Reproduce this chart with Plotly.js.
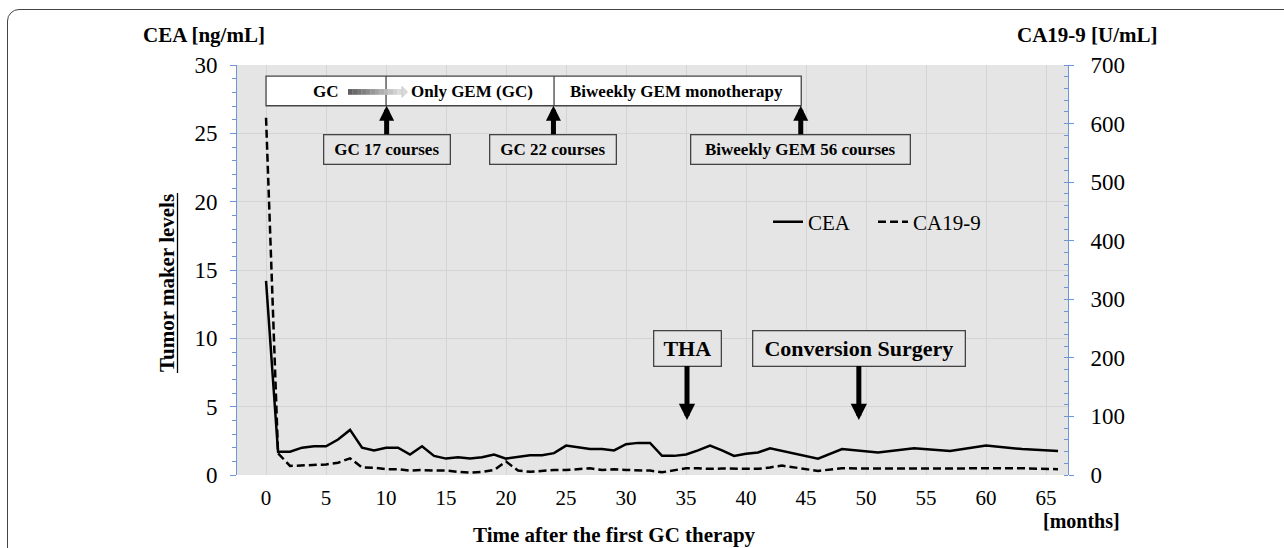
<!DOCTYPE html>
<html><head><meta charset="utf-8">
<script src="https://cdn.plot.ly/plotly-3.0.1.min.js"></script>
<style>
html,body{margin:0;padding:0;background:#fff;}
#wrap{position:relative;width:1284px;height:548px;overflow:hidden;}
#chart{width:1284px;height:548px;}
#frame{position:absolute;left:7px;top:9px;width:1300px;height:620px;border:1px solid #444;border-radius:12px;pointer-events:none;}
</style></head>
<body><div id="wrap"><div id="chart"></div><div id="frame"></div></div>
<script>
// ---- data ----
const ceaMonths = [0,1,2,3,4,5,6,7,8,9,10,11,12,13,14,15,16,17,18,19,20,21,22,23,24,25,26,27,28,29,30,31,32,33,34,35,36,37,38,39,40,41,42,46,48,51,54,57,60,63,66];
const ceaValues = [14.2,1.7,1.7,2.0,2.1,2.1,2.6,3.3,2.0,1.8,2.0,2.0,1.5,2.1,1.4,1.2,1.3,1.2,1.3,1.5,1.2,1.35,1.45,1.45,1.6,2.15,2.0,1.9,1.9,1.8,2.25,2.35,2.35,1.4,1.4,1.5,1.8,2.15,1.8,1.4,1.55,1.65,1.95,1.2,1.9,1.65,1.95,1.75,2.15,1.9,1.75];
const caMonths = [0,1,2,3,4,5,6,7,8,9,10,11,12,13,14,15,16,17,18,19,20,21,22,23,24,25,26,27,28,29,30,31,32,33,34,35,36,37,38,39,40,41,42,43,46,48,51,54,57,60,63,66];
const caValues = [610,37,15.5,16.5,17,18,21,28.5,13,12.5,10,10,7.5,8.5,7.5,7.5,5.5,4,5.5,8.5,23,7.5,5.5,7,8.5,8.5,9.7,11.5,8.5,9.7,8.5,8.5,7.5,4.6,7.5,11.5,11.5,10.5,11,11,11.5,10.5,13,16,7,11.5,11,11,11,11,11.5,10];
const xTickVals = [0,5,10,15,20,25,30,35,40,45,50,55,60,65];
const ceaTicks = [0,5,10,15,20,25,30];
const caTicks = [0,100,200,300,400,500,600,700];
const seriesNames = ['CEA','CA19-9'];

const FONT = 'Liberation Serif, Times New Roman, serif';
const BG = '#e5e5e5';
const AXC = 'rgb(110,150,215)';
const BOX = '#444';

const traces = [
  {x: ceaMonths, y: ceaValues, name: seriesNames[0], type:'scatter', mode:'lines',
   line:{color:'#000', width:2.5}, yaxis:'y', legend:'legend'},
  {x: caMonths, y: caValues, name: seriesNames[1], type:'scatter', mode:'lines',
   line:{color:'#000', width:2.5, dash:'8px,4px'}, yaxis:'y2', legend:'legend2'}
];

// shapes
const shapes = [];
shapes.push({type:'rect', xref:'x', yref:'y', x0:0, x1:44.6, y0:27.02, y1:29.19,
  fillcolor:'#fff', line:{color:BOX, width:1.3}, layer:'above'});
[10,24].forEach(m => shapes.push({type:'line', xref:'x', yref:'y', x0:m, x1:m, y0:27.02, y1:29.19,
  line:{color:BOX, width:1.3}, layer:'above'}));
const g0 = 6.83, g1 = 11.33, nSeg = 12;
for (let i = 0; i < nSeg; i++) {
  const t = i/(nSeg-1);
  const c = Math.round(95 + t*125);
  shapes.push({type:'rect', xref:'x', yref:'y', x0:g0+(g1-g0)*i/nSeg, x1:g0+(g1-g0)*(i+1)/nSeg+0.02,
    y0:27.82, y1:28.24, fillcolor:`rgb(${c},${c},${c})`, line:{width:0}, layer:'above'});
}
shapes.push({type:'path', xref:'x', yref:'y', path:'M 11.33 28.42 L 11.78 28.03 L 11.33 27.64 Z',
  fillcolor:'#dcdcdc', line:{color:'#c0c0c0', width:0.8}, layer:'above'});
// underline of y title
shapes.push({type:'line', xref:'paper', yref:'paper', x0:(177.5-237)/831, x1:(177.5-237)/831, y0:(475-373)/410, y1:(475-193)/410,
  line:{color:'#000', width:1.3}});

const annFont = s => ({family:FONT, size:s, color:'#000'});
const C = {xanchor:'center', yanchor:'middle'};
const annotations = [
  Object.assign({xref:'x', yref:'y', x:5, y:28.05, text:'<b>GC</b>', showarrow:false, font:annFont(17)}, C),
  Object.assign({xref:'x', yref:'y', x:17.2, y:28.05, text:'<b>Only GEM (GC)</b>', showarrow:false, font:annFont(17)}, C),
  Object.assign({xref:'x', yref:'y', x:34.2, y:28.05, text:'<b>Biweekly GEM monotherapy</b>', showarrow:false, font:annFont(17)}, C),
  {xref:'x', yref:'y', axref:'x', ayref:'y', x:10.05, y:27.02, ax:10.05, ay:23.85, text:'<b>GC 17 courses</b>',
   showarrow:true, arrowhead:2, arrowwidth:5, arrowsize:0.6, arrowcolor:'#000', standoff:0,
   bordercolor:BOX, borderwidth:1.3, borderpad:0, bgcolor:BG, width:125, height:28, font:annFont(17)},
  {xref:'x', yref:'y', axref:'x', ayref:'y', x:23.95, y:27.02, ax:23.95, ay:23.85, text:'<b>GC 22 courses</b>',
   showarrow:true, arrowhead:2, arrowwidth:5, arrowsize:0.6, arrowcolor:'#000', standoff:0,
   bordercolor:BOX, borderwidth:1.3, borderpad:0, bgcolor:BG, width:125, height:28, font:annFont(17)},
  {xref:'x', yref:'y', axref:'x', ayref:'y', x:44.56, y:27.02, ax:44.56, ay:23.85, text:'<b>Biweekly GEM 56 courses</b>',
   showarrow:true, arrowhead:2, arrowwidth:5, arrowsize:0.6, arrowcolor:'#000', standoff:0,
   bordercolor:BOX, borderwidth:1.3, borderpad:0, bgcolor:BG, width:218, height:28, font:annFont(17)},
  {xref:'x', yref:'y', axref:'x', ayref:'y', x:35.08, y:4.02, ax:35.08, ay:9.29, text:'<b>THA</b>',
   showarrow:true, arrowhead:2, arrowwidth:5, arrowsize:0.65, arrowcolor:'#000', standoff:0,
   bordercolor:BOX, borderwidth:1.3, borderpad:0, bgcolor:BG, width:66, height:34, font:annFont(22)},
  {xref:'x', yref:'y', axref:'x', ayref:'y', x:49.4, y:4.02, ax:49.4, ay:9.29, text:'<b>Conversion Surgery</b>',
   showarrow:true, arrowhead:2, arrowwidth:5, arrowsize:0.65, arrowcolor:'#000', standoff:0,
   bordercolor:BOX, borderwidth:1.3, borderpad:0, bgcolor:BG, width:211, height:34, font:annFont(22)},
  Object.assign({xref:'paper', yref:'paper', x:(204-237)/831, y:(475-35)/410, text:'<b>CEA [ng/mL]</b>', showarrow:false, font:annFont(21)}, C),
  Object.assign({xref:'paper', yref:'paper', x:(1087-237)/831, y:(475-35)/410, text:'<b>CA19-9 [U/mL]</b>', showarrow:false, font:annFont(21)}, C),
  Object.assign({xref:'paper', yref:'paper', x:(1081-237)/831, y:(475-521)/410, text:'<b>[months]</b>', showarrow:false, font:annFont(20)}, C),
  Object.assign({xref:'paper', yref:'paper', x:(614-237)/831, y:(475-535)/410, text:'<b>Time after the first GC therapy</b>', showarrow:false, font:annFont(21)}, C),
  Object.assign({xref:'paper', yref:'paper', x:(167-237)/831, y:(475-283)/410, text:'<b>Tumor maker levels</b>', textangle:-90, showarrow:false, font:annFont(21)}, C)
];

const legendBase = {orientation:'h', xanchor:'left', yanchor:'middle', bgcolor:'rgba(0,0,0,0)',
  font:{family:FONT, size:21, color:'#000'}};

const layout = {
  width:1284, height:548,
  margin:{l:237, r:216, t:65, b:73, pad:0},
  paper_bgcolor:'#fff', plot_bgcolor:BG,
  font:{family:FONT, color:'#000'},
  showlegend:true,
  legend:Object.assign({x:(768-237)/831, y:(475-222)/410}, legendBase),
  legend2:Object.assign({x:(873-237)/831, y:(475-222)/410}, legendBase),
  xaxis:{range:[-2.42, 66.83], tickmode:'array', tickvals:xTickVals, ticktext:xTickVals.map(String),
    showgrid:true, gridcolor:'#d4d4d4', gridwidth:1, zeroline:false, showline:false, ticks:'',
    tickfont:{family:FONT, size:21, color:'#000'}, ticklabelstandoff:8},
  yaxis:{range:[0,30], tickmode:'array', tickvals:ceaTicks, showgrid:true, gridcolor:'#d4d4d4', gridwidth:1,
    zeroline:false, showline:true, linecolor:AXC, linewidth:1, ticks:'outside', ticklen:6, tickcolor:AXC,
    minor:{dtick:1, ticks:'outside', ticklen:4, tickcolor:AXC, showgrid:false},
    tickfont:{family:FONT, size:23, color:'#000'}, ticklabelstandoff:8},
  yaxis2:{range:[0,700], overlaying:'y', side:'right', tickmode:'array', tickvals:caTicks, showgrid:false,
    zeroline:false, showline:true, linecolor:AXC, linewidth:1, ticks:'outside', ticklen:5, tickcolor:AXC,
    minor:{dtick:20, ticks:'inside', ticklen:4, tickcolor:AXC, showgrid:false},
    tickfont:{family:FONT, size:23, color:'#000'}, ticklabelstandoff:12},
  shapes: shapes,
  annotations: annotations
};

Plotly.newPlot('chart', traces, layout, {staticPlot:true, displayModeBar:false});
</script>
</body></html>
